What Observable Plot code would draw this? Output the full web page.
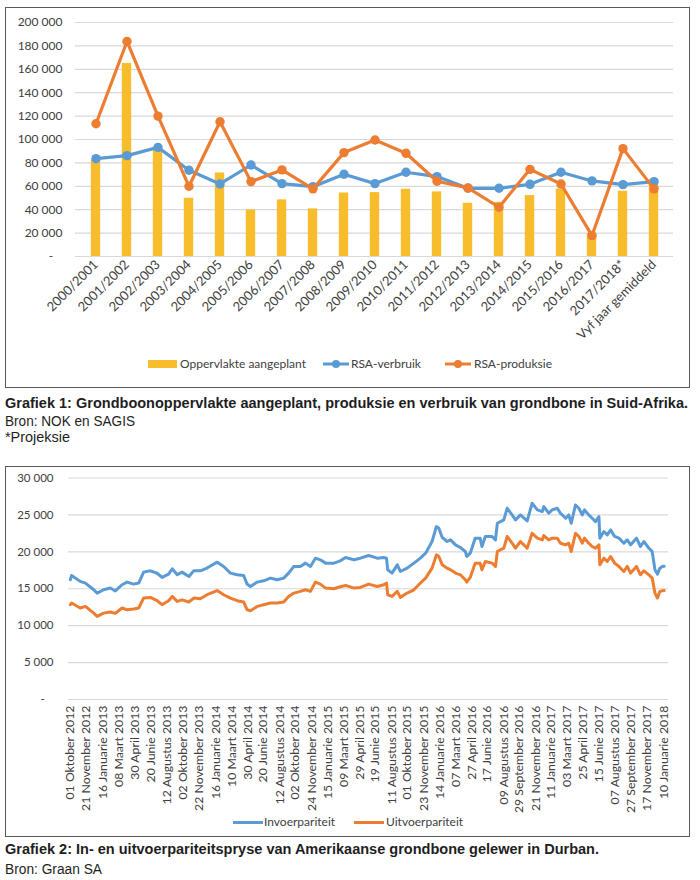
<!DOCTYPE html>
<html><head><meta charset="utf-8">
<script src="https://cdn.jsdelivr.net/npm/d3@7"></script>
<script src="https://cdn.jsdelivr.net/npm/@observablehq/plot@0.6"></script>
<style>
body{margin:0;background:#fff;width:700px;height:880px;position:relative;overflow:hidden;font-family:Lato,sans-serif}
.box{position:absolute;border:1.5px solid #5a5a5a;box-sizing:border-box}
.abs{position:absolute}
.lg{position:absolute;font:12px Lato,sans-serif;color:#404040;white-space:nowrap;line-height:14px}
.cap{position:absolute;left:5px;font-family:"Liberation Sans",Arial,sans-serif;font-size:14px;line-height:16px;color:#1e1e1e;white-space:nowrap;transform-origin:0 50%;display:inline-block}
</style></head><body>
<div class="box" style="left:5px;top:7px;width:685px;height:381px"></div>
<div class="box" style="left:5px;top:466px;width:685px;height:371px"></div>
<div id="c1" class="abs" style="left:0;top:0"></div>
<div id="c2" class="abs" style="left:0;top:466px"></div>

<div class="abs" style="left:148px;top:360px;width:29px;height:8px;background:#f8bd2c"></div>
<div class="lg" style="left:180px;top:357px">Oppervlakte aangeplant</div>
<svg class="abs" style="left:323px;top:358px" width="26" height="12"><line x1="0" y1="6" x2="26" y2="6" stroke="#5b9bd5" stroke-width="3"/><circle cx="13" cy="6" r="4" fill="#5b9bd5"/></svg>
<div class="lg" style="left:351px;top:357px">RSA-verbruik</div>
<svg class="abs" style="left:445px;top:358px" width="26" height="12"><line x1="0" y1="6" x2="26" y2="6" stroke="#ed7d31" stroke-width="3"/><circle cx="13" cy="6" r="4" fill="#ed7d31"/></svg>
<div class="lg" style="left:474px;top:357px">RSA-produksie</div>

<div class="abs" style="left:233px;top:821px;width:30px;height:3px;background:#5b9bd5"></div>
<div class="lg" style="left:264px;top:815px">Invoerpariteit</div>
<div class="abs" style="left:354px;top:821px;width:30px;height:3px;background:#ed7d31"></div>
<div class="lg" style="left:386px;top:815px">Uitvoerpariteit</div>

<div class="cap" data-w="683" style="top:395px;font-weight:bold">Grafiek 1: Grondboonoppervlakte aangeplant, produksie en verbruik van grondbone in Suid-Afrika.</div>
<div class="cap" data-w="130" style="top:413px">Bron: NOK en SAGIS</div>
<div class="cap" data-w="65" style="top:429px">*Projeksie</div>
<div class="cap" data-w="594" style="top:841px;font-weight:bold">Grafiek 2: In- en uitvoerpariteitspryse van Amerikaanse grondbone gelewer in Durban.</div>
<div class="cap" data-w="97" style="top:861px">Bron: Graan SA</div>

<script>
// ---------- Grafiek 1 ----------
const seasons = ["2000/2001","2001/2002","2002/2003","2003/2004","2004/2005","2005/2006","2006/2007","2007/2008","2008/2009","2009/2010","2010/2011","2011/2012","2012/2013","2013/2014","2014/2015","2015/2016","2016/2017","2017/2018*","Vyf jaar gemiddeld"];
const oppervlakte = [82500,165000,90500,49800,71400,39800,48400,40700,54300,54600,57500,55200,45500,46300,52100,57700,19500,55800,65400];
const verbruik    = [83600,86200,93300,73700,62000,78200,62300,59700,70300,62300,72000,68300,58300,58300,61700,72000,64600,61400,64000];
const produksie   = [113500,183800,120000,60000,115200,64000,74000,57800,88800,99600,88200,64300,58600,42100,74500,62000,17900,92200,57800];
const yTicks1 = [0,20000,40000,60000,80000,100000,120000,140000,160000,180000,200000];

// ---------- Grafiek 2 ----------
const datums = ["2012-10-01","2012-10-05","2012-11-02","2012-11-19","2012-12-16","2012-12-27","2013-01-17","2013-02-08","2013-02-24","2013-03-18","2013-04-03","2013-04-25","2013-05-11","2013-05-27","2013-06-18","2013-07-10","2013-07-26","2013-08-16","2013-08-28","2013-09-13","2013-09-29","2013-10-21","2013-11-06","2013-11-27","2013-12-19","2014-01-21","2014-02-11","2014-03-05","2014-03-27","2014-04-17","2014-04-28","2014-05-09","2014-05-31","2014-06-21","2014-07-13","2014-08-04","2014-08-25","2014-09-10","2014-09-27","2014-10-18","2014-11-04","2014-11-20","2014-12-06","2014-12-22","2015-01-08","2015-02-04","2015-02-25","2015-03-14","2015-04-10","2015-05-01","2015-05-28","2015-06-25","2015-07-16","2015-07-25","2015-07-29","2015-08-12","2015-08-29","2015-09-08","2015-09-30","2015-10-22","2015-11-12","2015-11-29","2015-12-20","2016-01-03","2016-01-11","2016-01-22","2016-02-07","2016-02-18","2016-03-05","2016-03-21","2016-04-06","2016-04-11","2016-04-22","2016-05-08","2016-05-24","2016-05-30","2016-06-10","2016-07-02","2016-07-13","2016-07-19","2016-08-09","2016-08-20","2016-09-05","2016-09-16","2016-10-02","2016-10-24","2016-11-09","2016-11-26","2016-12-12","2016-12-17","2017-01-02","2017-01-13","2017-01-30","2017-02-09","2017-02-26","2017-03-08","2017-03-16","2017-03-30","2017-04-10","2017-04-21","2017-04-28","2017-05-12","2017-05-23","2017-06-03","2017-06-14","2017-06-17","2017-06-30","2017-07-11","2017-07-22","2017-08-04","2017-08-18","2017-09-03","2017-09-14","2017-09-25","2017-10-14","2017-10-27","2017-11-07","2017-11-23","2017-12-04","2017-12-13","2017-12-21","2017-12-29","2018-01-06","2018-01-12"];
const invoer = [16220,16800,16000,15770,14860,14400,14860,15100,14700,15540,15900,15630,15770,17250,17430,17100,16530,16980,17700,16900,17250,16670,17430,17430,17800,18600,18020,17120,16890,16800,15630,15310,15900,16080,16440,16210,16440,17120,18020,18020,18470,18020,19140,18920,18470,18470,18780,19230,18920,19140,19500,19140,19230,19140,17570,17120,18240,17340,17790,18470,19140,19820,21400,23420,23200,21940,21400,21620,20950,20590,20050,19370,19820,21850,21850,20720,22080,22080,21620,23870,24320,25900,25000,24320,25000,24190,26580,25680,25450,26130,25230,25680,25900,25230,24550,25000,23870,26350,25900,25000,25680,25000,24550,24100,24770,21850,22750,22300,22970,22080,21850,21170,21620,20950,21850,20720,21400,20500,20050,17570,16980,17790,18020,18050];
const uitvoer = [12840,13060,12390,12610,11700,11260,11700,11850,11670,12390,12160,12250,12390,13740,13830,13380,12840,13380,13960,13290,13500,13200,13740,13650,14190,14750,14190,13740,13380,13200,12160,12030,12610,12840,13060,13060,13200,13960,14410,14640,14860,14640,15900,15630,15090,15000,15270,15450,15090,15180,15630,15310,15540,15770,14190,13960,14640,13830,14410,14860,15770,16440,17790,19590,19370,18240,17790,17570,17120,16890,16220,15900,16530,18470,18470,17570,18690,18470,18020,20050,20500,22080,21170,20500,21400,20500,22520,21850,21620,22200,21620,21850,21850,21170,20950,21170,20050,22520,22080,21170,21850,21170,20720,20500,20950,18240,19140,18690,19370,18470,18020,17340,18020,17120,18020,16890,17430,16890,16440,14410,13740,14640,14730,14750];
const xLabels2 = ["01 Oktober 2012","21 November 2012","16 Januarie 2013","08 Maart 2013","30 April 2013","20 Junie 2013","12 Augustus 2013","02 Oktober 2013","22 November 2013","16 Januarie 2014","10 Maart 2014","30 April 2014","20 Junie 2014","12 Augustus 2014","02 Oktober 2014","24 November 2014","15 Januarie 2015","09 Maart 2015","29 April 2015","19 Junie 2015","11 Augustus 2015","01 Oktober 2015","23 November 2015","14 Januarie 2016","07 Maart 2016","27 April 2016","17 Junie 2016","09 Augustus 2016","29 September 2016","21 November 2016","11 Januarie 2017","03 Maart 2017","25 April 2017","15 Junie 2017","07 Augustus 2017","27 September 2017","17 November 2017","10 Januarie 2018"];
const yTicks2 = [0,5000,10000,15000,20000,25000,30000];

const fmtNum = d => d === 0 ? "-\u00a0\u00a0\u00a0" : d3.format(",")(d).replace(/,/g, " ");

const rows1 = seasons.map((s, i) => ({s, opp: oppervlakte[i], verb: verbruik[i], prod: produksie[i]}));
const BLUE = "#5b9bd5", ORANGE = "#ed7d31", GOLD = "#f8bd2c", GRID = "#d9d9d9";

const p1 = Plot.plot({
  width: 700, height: 350,
  marginLeft: 75, marginRight: 27, marginTop: 22, marginBottom: 94,
  style: {fontFamily: "Lato, sans-serif", fontSize: "12px", color: "#404040", background: "transparent", overflow: "visible"},
  x: {type: "band", domain: seasons, padding: 0, label: null},
  y: {domain: [0, 200000], label: null},
  marks: [
    Plot.gridY(yTicks1, {stroke: GRID, strokeOpacity: 1, strokeWidth: 1.2}),
    Plot.barY(rows1, {x: "s", y: "opp", fill: GOLD, insetLeft: 10.8, insetRight: 10.8}),
    Plot.line(rows1, {x: "s", y: "verb", stroke: BLUE, strokeWidth: 3.2}),
    Plot.dot(rows1, {x: "s", y: "verb", fill: BLUE, r: 4.7}),
    Plot.line(rows1, {x: "s", y: "prod", stroke: ORANGE, strokeWidth: 3.2}),
    Plot.dot(rows1, {x: "s", y: "prod", fill: ORANGE, r: 4.7}),
    Plot.axisY({ticks: yTicks1, tickSize: 0, tickPadding: 13, tickFormat: fmtNum, fontSize: 12, label: null}),
    Plot.axisX({tickSize: 0, tickRotate: -45, tickPadding: 6, fontSize: 13, label: null})
  ]
});
document.getElementById("c1").append(p1);

const maande = {Januarie:0, Februarie:1, Maart:2, April:3, Mei:4, Junie:5, Julie:6, Augustus:7, September:8, Oktober:9, November:10, Desember:11};
const parseLabel = s => { const [d, m, y] = s.split(" "); return new Date(Date.UTC(+y, maande[m], +d)); };
const tickDates2 = xLabels2.map(parseLabel);
const labelByTime = new Map(tickDates2.map((d, i) => [+d, xLabels2[i]]));
const rows2 = datums.map((d, i) => ({d: new Date(d), inv: invoer[i], uit: uitvoer[i]}));

const p2 = Plot.plot({
  width: 700, height: 350,
  marginLeft: 68, marginRight: 32, marginTop: 11.5, marginBottom: 117,
  style: {fontFamily: "Lato, sans-serif", fontSize: "11px", color: "#404040", background: "transparent", overflow: "visible"},
  x: {type: "utc", domain: [new Date("2012-09-25"), new Date("2018-01-26")], label: null},
  y: {domain: [0, 30000], label: null},
  marks: [
    Plot.gridY(yTicks2, {stroke: GRID, strokeOpacity: 1, strokeWidth: 1.2}),
    Plot.line(rows2, {x: "d", y: "inv", stroke: BLUE, strokeWidth: 3}),
    Plot.line(rows2, {x: "d", y: "uit", stroke: ORANGE, strokeWidth: 3}),
    Plot.axisY({ticks: yTicks2, tickSize: 0, tickPadding: 15, tickFormat: fmtNum, fontSize: 11.5, label: null}),
    Plot.axisX({ticks: tickDates2, tickSize: 0, tickRotate: -90, tickPadding: 6, fontSize: 12.3, tickFormat: d => labelByTime.get(+d) ?? "", label: null})
  ]
});
document.getElementById("c2").append(p2);

// fit caption widths to the reference
document.querySelectorAll(".cap").forEach(el => {
  const w = el.getBoundingClientRect().width;
  const target = +el.dataset.w;
  el.style.transform = `scaleX(${target / w})`;
});
</script>
</body></html>
